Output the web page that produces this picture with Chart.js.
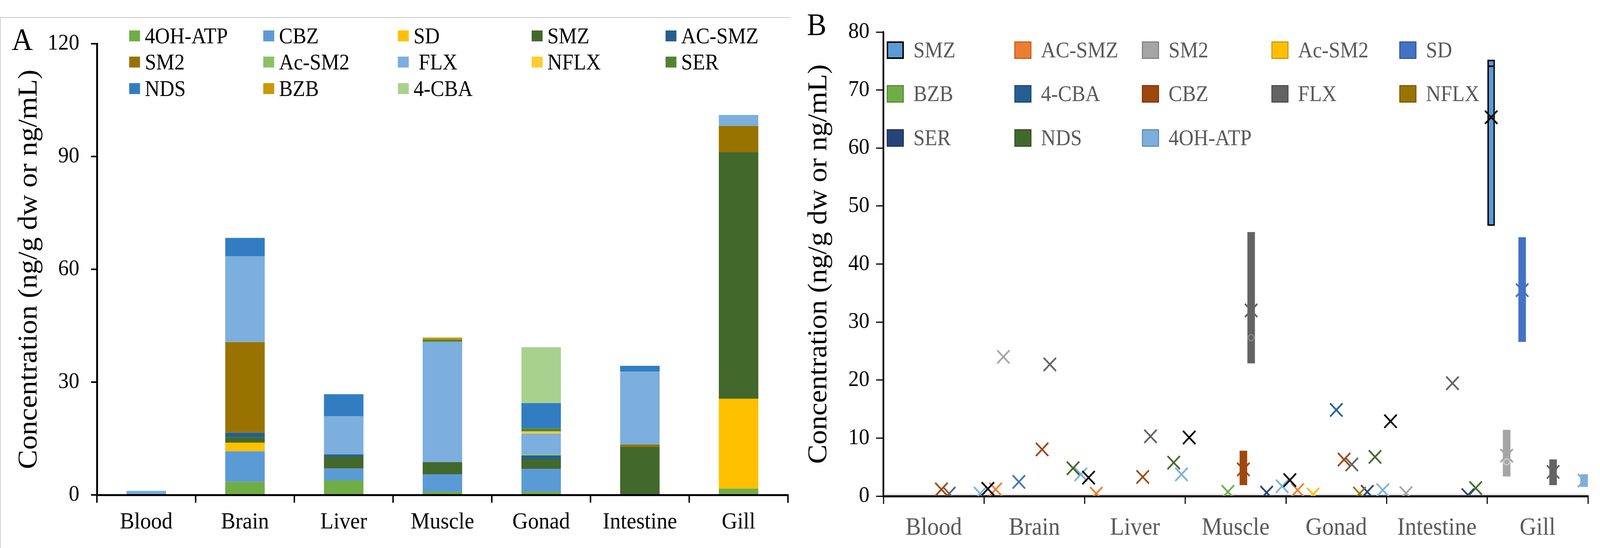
<!DOCTYPE html>
<html>
<head>
<meta charset="utf-8">
<script src="https://cdn.jsdelivr.net/npm/chart.js@4.4.1/dist/chart.umd.min.js"></script>
<style>
  html, body { margin: 0; padding: 0; overflow: hidden; background: #fff; }
  #page { position: relative; width: 4376px; height: 1404px; transform-origin: 0 0; font-family: 'Liberation Serif', 'Times New Roman', serif; }
  canvas { position: absolute; top: 0; }
  #chartA { left: 0; }
  #chartB { left: 2180px; }
  .frame { position: absolute; left: 0; top: 44px; width: 2163px; height: 1360px; border-top: 2px solid #c6c6c6; border-left: 2px solid #d0d0d0; box-sizing: border-box; }
  .panel { position: absolute; font-size: 80px; line-height: 1; }
  .legend-item { position: absolute; display: flex; align-items: center; white-space: pre; line-height: 1; }
  .swatch { flex: none; box-sizing: border-box; }
</style>
</head>
<body>
<div id="page">
<div class="frame"></div>
<canvas id="chartA" width="2180" height="1404"></canvas>
<canvas id="chartB" width="2196" height="1404"></canvas>
<div class="panel" style="left:32px; top:61px">A</div>
<div class="panel" style="left:2207px; top:23px">B</div>
<div id="legendA"></div>
<div id="legendB"></div>
</div>
<script>
const organs = ['Blood', 'Brain', 'Liver', 'Muscle', 'Gonad', 'Intestine', 'Gill'];

// Panel A: stacked concentrations per organ
const a4OHATP = [0, 3.5, 3.83, 0.84, 0.84, 0, 1.68];
const aCBZ = [0.3, 8.1, 3.2, 4.67, 6.12, 0, 0];
const aSD = [0, 2.3, 0, 0, 0, 0, 23.87];
const aSMZ = [0, 1.45, 3.14, 3.2, 2.6, 12.78, 65.6];
const aACSMZ = [0, 1.2, 0.6, 0, 0.92, 0, 0];
const aSM2 = [0, 24.1, 0, 0, 0, 0.6, 7.0];
const aAcSM2 = [0, 0, 0, 0, 0.25, 0, 0];
const aFLX = [0.8, 22.8, 10.2, 32.0, 5.6, 19.4, 2.9];
const aNFLX = [0, 0, 0, 0, 0.6, 0, 0];
const aSER = [0, 0, 0, 0.6, 0.77, 0, 0];
const aNDS = [0, 4.9, 5.8, 0, 6.73, 1.55, 0];
const aBZB = [0, 0, 0, 0.55, 0, 0, 0];
const a4CBA = [0, 0, 0, 0, 14.85, 0, 0];

const labelsA = ['4OH-ATP', 'CBZ', 'SD', 'SMZ', 'AC-SMZ', 'SM2', 'Ac-SM2', ' FLX', 'NFLX', 'SER', 'NDS', 'BZB', '4-CBA'];
const valuesA = [a4OHATP, aCBZ, aSD, aSMZ, aACSMZ, aSM2, aAcSM2, aFLX, aNFLX, aSER, aNDS, aBZB, a4CBA];
const colorsA = ['#70AD47', '#5B9BD5', '#FFC000', '#43682B', '#255E91', '#997300', '#8CC168',
                 '#7CAFDD', '#FFCD33', '#548235', '#327DC2', '#C99A06', '#A9D18E'];

// Panel B: means (x markers) per organ
const meanSMZ = [null, 1.25, 3.18, 10.1, 2.75, 12.9, 65.3];
const meanACSMZ = [null, 1.16, 0.43, null, 1.03, null, null];
const meanSM2 = [null, 24.0, null, null, null, 0.52, 6.97];
const meanAcSM2 = [null, null, null, null, 0.3, null, null];
const meanSD = [null, 2.45, null, null, null, null, 35.5];
const meanBZB = [null, null, null, 0.73, null, null, null];
const mean4CBA = [null, null, null, null, 14.85, null, null];
const meanCBZ = [1.16, 8.05, 3.3, 4.6, 6.3, null, null];
const meanFLX = [0.43, 22.7, 10.3, 32.0, 5.46, 19.45, 4.17];
const meanNFLX = [null, null, null, null, 0.43, null, null];
const meanSER = [null, null, null, 0.6, 0.73, 0.17, null];
const meanNDS = [null, 4.8, 5.77, null, 6.76, 1.38, null];
const mean4OHATP = [0.43, 3.74, 3.74, 1.7, 1.03, null, 2.67];

// Panel B: boxes [low, high] where there is a spread
const none = [null, null, null, null, null, null, null];
const boxSMZ = [null, null, null, null, null, null, [46.6, 75.2]];
const boxSM2 = [null, null, null, null, null, null, [3.4, 11.4]];
const boxSD = [null, null, null, null, null, null, [26.6, 44.6]];
const boxCBZ = [null, null, null, [1.9, 7.8], null, null, null];
const boxFLX = [null, null, null, [22.9, 45.5], null, null, [1.9, 6.3]];
const box4OHATP = [null, null, null, null, null, null, [1.6, 3.74]];
const medSMZ = [null, null, null, null, null, null, 74.1];
const innerFLX = [null, null, null, 27.3, null, null, null];
const innerSM2 = [null, null, null, null, null, null, 5.9];

const labelsB = ['SMZ', 'AC-SMZ', 'SM2', 'Ac-SM2', 'SD', 'BZB', '4-CBA', 'CBZ', 'FLX', 'NFLX', 'SER', 'NDS', '4OH-ATP'];
const meansB = [meanSMZ, meanACSMZ, meanSM2, meanAcSM2, meanSD, meanBZB, mean4CBA, meanCBZ, meanFLX, meanNFLX, meanSER, meanNDS, mean4OHATP];
const boxesB = [boxSMZ, none, boxSM2, none, boxSD, none, none, boxCBZ, boxFLX, none, none, none, box4OHATP];
const colorsB = ['#5B9BD5', '#ED7D31', '#A5A5A5', '#FFC000', '#4472C4', '#70AD47', '#255E91',
                 '#9E480E', '#636363', '#997300', '#264478', '#43682B', '#7CAFDD'];
const markColorsB = ['#000000'].concat(colorsB.slice(1));

const serif = 'Liberation Serif';

// keep the 4376x1404 layout filling whatever viewport we get
function fitPage() {
    const sx = window.innerWidth / 4376;
    const sy = window.innerHeight / 1404;
    if (sx > 0 && sy > 0) {
        document.getElementById('page').style.transform = `scale(${sx}, ${sy})`;
    }
}

function buildLegend(el, labels, colors, o) {
    labels.forEach((label, i) => {
        const item = document.createElement('div');
        item.className = 'legend-item';
        item.style.left = o.cols[i % 5] + 'px';
        item.style.top = (o.rows[Math.floor(i / 5)] - o.h / 2) + 'px';
        item.style.height = o.h + 'px';
        item.style.fontSize = o.font + 'px';
        item.style.color = o.text;

        const sw = document.createElement('span');
        sw.className = 'swatch';
        sw.style.width = o.w + 'px';
        sw.style.height = o.h + 'px';
        sw.style.background = colors[i];
        sw.style.marginRight = o.gap + 'px';
        if (o.border) sw.style.border = o.border(i);
        item.appendChild(sw);
        item.appendChild(document.createTextNode(label));
        el.appendChild(item);
    });
}

function drawChartA() {
    const ctx = document.getElementById('chartA');
    new Chart(ctx, {
        type: 'bar',
        data: {
            labels: organs,
            datasets: labelsA.map((label, i) => ({
                label: label,
                data: valuesA[i],
                backgroundColor: colorsA[i],
                borderWidth: 0,
                categoryPercentage: 1,
                barPercentage: 0.4
            }))
        },
        options: {
            responsive: false,
            animation: false,
            devicePixelRatio: 1,
            layout: { padding: { left: 0, right: 25, top: 112, bottom: 0 } },
            plugins: { legend: { display: false }, tooltip: { enabled: false } },
            scales: {
                x: {
                    stacked: true,
                    grid: { drawOnChartArea: false, offset: true, tickLength: 20, lineWidth: 4, color: '#000' },
                    border: { color: '#000', width: 5 },
                    ticks: { color: '#000', padding: 15, autoSkip: false, font: { family: serif, size: 59 } },
                    afterFit: s => { s.height = 136; }
                },
                y: {
                    stacked: true,
                    min: 0,
                    max: 120,
                    ticks: { stepSize: 30, padding: 32, color: '#000', font: { family: serif, size: 58 } },
                    grid: { drawOnChartArea: false, tickLength: 16, lineWidth: 4, color: '#000' },
                    border: { color: '#000', width: 5 },
                    title: {
                        display: true,
                        text: 'Concentration (ng/g dw or ng/mL)',
                        color: '#000',
                        font: { family: serif, size: 74 },
                        padding: { top: 36, bottom: 0 }
                    },
                    afterFit: s => { s.width = 265; }
                }
            }
        }
    });
}

// light grey glow under the axes of panel B
const axisGlow = {
    id: 'axisGlow',
    beforeDraw(chart) {
        const { ctx, chartArea: a } = chart;
        ctx.save();
        ctx.fillStyle = '#e2e2e2';
        ctx.fillRect(a.left, a.bottom - 6, a.right - a.left, 12);
        ctx.fillRect(a.left - 5, a.top, 10, a.bottom - a.top);
        ctx.restore();
    }
};

function drawChartB() {
    const ctx = document.getElementById('chartB');
    const n = labelsB.length;
    // each organ holds one slot per compound on the x axis
    const slot = (k, i) => k * n + i + 0.5;
    const points = (arr, i) => arr.map((v, k) => v === null ? null : { x: slot(k, i), y: v }).filter(p => p);

    const boxSets = labelsB.map((label, i) => ({
        type: 'bar',
        label: label,
        data: boxesB[i].map((b, k) => b ? { x: slot(k, i), y: b } : null).filter(p => p),
        backgroundColor: colorsB[i],
        borderColor: i === 0 ? '#000' : colorsB[i],
        borderWidth: i === 0 ? 4 : 0,
        borderSkipped: false,
        grouped: false,
        barThickness: 20,
        order: 3
    }));

    const markSets = labelsB.map((label, i) => ({
        type: 'scatter',
        label: label + ' mean',
        data: points(meansB[i], i),
        pointStyle: 'crossRot',
        pointRadius: 24,
        pointBorderWidth: 4.5,
        pointBorderColor: markColorsB[i],
        order: 1
    }));

    const extraSets = [
        { label: 'SMZ median', data: points(medSMZ, 0), pointStyle: 'line', pointRadius: 10, pointBorderWidth: 4, pointBorderColor: '#000' },
        { label: 'FLX inner', data: points(innerFLX, 8), pointStyle: 'circle', pointRadius: 8, pointBorderWidth: 3, pointBorderColor: '#8a8a8a', pointBackgroundColor: 'rgba(0,0,0,0)' },
        { label: 'SM2 inner', data: points(innerSM2, 2), pointStyle: 'circle', pointRadius: 8, pointBorderWidth: 3, pointBorderColor: '#cfcfcf', pointBackgroundColor: 'rgba(0,0,0,0)' }
    ].map(d => Object.assign({ type: 'scatter', order: 2 }, d));

    new Chart(ctx, {
        type: 'bar',
        data: { datasets: boxSets.concat(extraSets, markSets) },
        options: {
            responsive: false,
            animation: false,
            devicePixelRatio: 1,
            layout: { padding: { left: 0, right: 33, top: 82, bottom: 0 } },
            plugins: { legend: { display: false }, tooltip: { enabled: false } },
            scales: {
                x: {
                    type: 'linear',
                    min: 0,
                    max: organs.length * n,
                    offset: false,
                    // tick marks on organ boundaries, labels on organ centres
                    afterBuildTicks: s => {
                        const t = [];
                        for (let k = 0; k <= organs.length; k++) {
                            t.push({ value: k * n });
                            if (k < organs.length) t.push({ value: k * n + n / 2 });
                        }
                        s.ticks = t;
                    },
                    grid: {
                        drawOnChartArea: false,
                        offset: false,
                        tickLength: 20,
                        lineWidth: 3,
                        tickColor: c => (c.tick && c.tick.value % n === 0) ? '#000' : 'rgba(0,0,0,0)'
                    },
                    border: { color: '#000', width: 5 },
                    ticks: {
                        autoSkip: false,
                        maxRotation: 0,
                        color: '#595959',
                        padding: 25,
                        font: { family: serif, size: 63 },
                        callback: v => (v % n === n / 2) ? organs[(v - n / 2) / n] : ''
                    },
                    afterFit: s => { s.height = 133; }
                },
                y: {
                    min: 0,
                    max: 80,
                    ticks: { stepSize: 10, padding: 18, color: '#000', font: { family: serif, size: 58 } },
                    grid: { drawOnChartArea: false, tickLength: 20, lineWidth: 3, color: '#000' },
                    border: { color: '#000', width: 4 },
                    title: {
                        display: true,
                        text: 'Concentration (ng/g dw or ng/mL)',
                        color: '#000',
                        font: { family: serif, size: 74 },
                        padding: { top: 16, bottom: 0 }
                    },
                    afterFit: s => { s.width = 236; }
                }
            }
        },
        plugins: [axisGlow]
    });
}

fitPage();
drawChartA();
drawChartB();

buildLegend(document.getElementById('legendA'), labelsA, colorsA, {
    cols: [353, 720, 1088, 1454, 1820], rows: [92, 159, 227],
    w: 30, h: 28, gap: 13, font: 56, text: '#000'
});
buildLegend(document.getElementById('legendB'), labelsB, colorsB, {
    cols: [2425, 2774, 3123, 3477, 3827], rows: [128, 240, 353],
    w: 47, h: 45, gap: 26, font: 56, text: '#595959',
    border: i => i === 0 ? '4px solid #000' : '3px solid rgba(0,0,0,0.2)'
});
</script>
</body>
</html>
